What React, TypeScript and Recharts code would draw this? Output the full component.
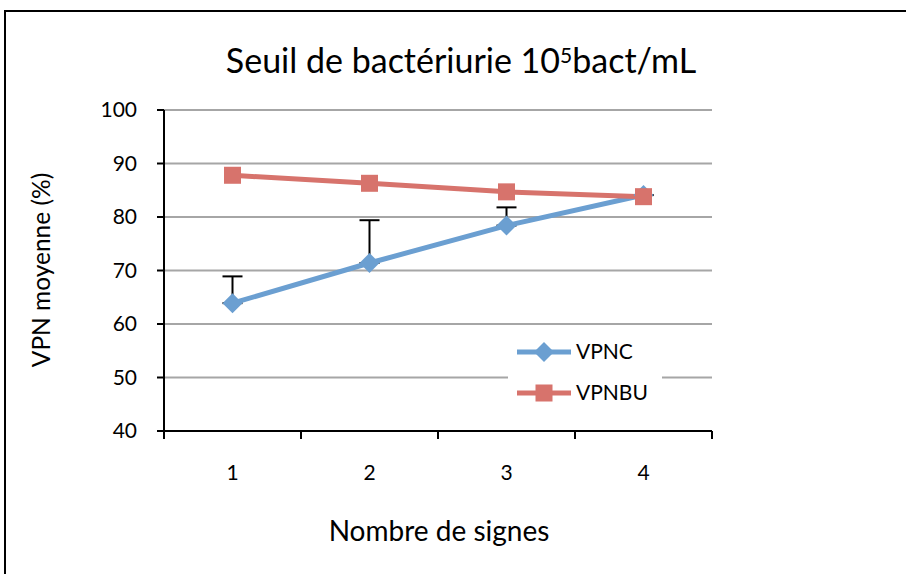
import React from 'react';
import { LineChart, Line, XAxis, YAxis, CartesianGrid, ErrorBar, Legend } from 'recharts';

const signes = [1, 2, 3, 4];
const vpnc = [63.9, 71.4, 78.4, 84.1];
const vpncErrUp = [5.0, 8.0, 3.4, 0];
const vpnbu = [87.8, 86.3, 84.7, 83.8];
const yTicks = [40, 50, 60, 70, 80, 90, 100];
const xEdges = [0.5, 1.5, 2.5, 3.5, 4.5];

const BLUE = '#6b9fd1';
const RED = '#d7736c';
const FONT = 'Lato, "Open Sans", sans-serif';

const PLOT_LEFT = 164;
const PLOT_RIGHT = 712;
const PLOT_TOP = 110;
const PLOT_BOTTOM = 431;
const LEGEND_H = 82;
const HALF_BAND = (PLOT_RIGHT - PLOT_LEFT) / signes.length / 2;

const data = signes.map((s, i) => ({
  signe: s,
  vpnc: vpnc[i],
  vpncErr: [0, vpncErrUp[i]],
  vpnbu: vpnbu[i],
}));

const Diamond = ({ cx, cy }: any) => {
  if (cx == null || cy == null) return null;
  const r = 10;
  return <polygon points={`${cx},${cy - r} ${cx + r},${cy} ${cx},${cy + r} ${cx - r},${cy}`} fill={BLUE} />;
};

const Square = ({ cx, cy }: any) => {
  if (cx == null || cy == null) return null;
  const s = 8.5;
  return <rect x={cx - s} y={cy - s} width={s * 2} height={s * 2} fill={RED} />;
};

// labels sit in the middle of each category, ticks on the edges
const XTick = ({ x, y, payload }: any) => {
  if (payload.value >= 4.5) return null;
  return (
    <text x={x + HALF_BAND} y={y} dy="0.71em" textAnchor="middle" fontSize={21} fontFamily={FONT} fill="#000">
      {payload.value + 0.5}
    </text>
  );
};

const LegendBox = () => (
  <svg width={154} height={LEGEND_H}>
    <line x1={9} y1={22} x2={63} y2={22} stroke={BLUE} strokeWidth={5} />
    <Diamond cx={36} cy={22} />
    <text x={68} y={22} dy="0.35em" fontSize={21} fontFamily={FONT}>VPNC</text>
    <line x1={9} y1={63} x2={63} y2={63} stroke={RED} strokeWidth={5} />
    <Square cx={36} cy={63} />
    <text x={68} y={63} dy="0.35em" fontSize={21} fontFamily={FONT}>VPNBU</text>
  </svg>
);

export default function App() {
  return (
    <div style={{ position: 'fixed', left: 0, top: 0, width: 906, height: 574, overflow: 'hidden', background: '#fff', fontFamily: FONT }}>
      <div style={{ position: 'absolute', left: 4, top: 10, width: 1000, height: 1000, border: '2px solid #000' }} />
      <div style={{ position: 'absolute', left: 461, top: 59, transform: 'translate(-50%, -50%)', fontSize: 34, whiteSpace: 'nowrap' }}>
        Seuil de bactériurie 10<sup style={{ fontSize: 21, verticalAlign: 'top', position: 'relative', top: 3 }}>5</sup>bact/mL
      </div>
      <div style={{ position: 'absolute', left: 40, top: 270, transform: 'translate(-50%, -50%) rotate(-90deg)', fontSize: 24.5, whiteSpace: 'nowrap' }}>
        VPN moyenne (%)
      </div>
      <div style={{ position: 'absolute', left: 439, top: 530, transform: 'translate(-50%, -50%)', fontSize: 28, whiteSpace: 'nowrap' }}>
        Nombre de signes
      </div>
      <div style={{ position: 'absolute', left: 0, top: 0 }}>
        <LineChart
          width={906}
          height={574}
          data={data}
          margin={{ top: PLOT_TOP, right: 906 - PLOT_RIGHT, bottom: 574 - PLOT_BOTTOM - 60 - LEGEND_H, left: PLOT_LEFT - 60 }}
        >
          <CartesianGrid vertical={false} stroke="#a6a6a6" strokeWidth={2} />
          <XAxis
            dataKey="signe"
            type="number"
            domain={[0.5, 4.5]}
            ticks={xEdges}
            height={60}
            tickSize={8}
            tickMargin={26}
            stroke="#000"
            strokeWidth={2}
            tick={<XTick />}
          />
          <YAxis
            type="number"
            domain={[40, 100]}
            ticks={yTicks}
            width={60}
            tickSize={7}
            tickMargin={20}
            stroke="#000"
            strokeWidth={2}
            tick={{ fontSize: 21, fontFamily: FONT, fill: '#000' }}
          />
          <Legend
            content={<LegendBox />}
            wrapperStyle={{ position: 'absolute', left: 508, top: 330, width: 154, height: LEGEND_H, background: '#fff' }}
          />
          <Line
            dataKey="vpnc"
            name="VPNC"
            stroke={BLUE}
            strokeWidth={5}
            dot={<Diamond />}
            activeDot={false}
            isAnimationActive={false}
          >
            <ErrorBar dataKey="vpncErr" direction="y" width={10} stroke="#000" strokeWidth={2} isAnimationActive={false} />
          </Line>
          <Line
            dataKey="vpnbu"
            name="VPNBU"
            stroke={RED}
            strokeWidth={5}
            dot={<Square />}
            activeDot={false}
            isAnimationActive={false}
          />
        </LineChart>
      </div>
    </div>
  );
}
